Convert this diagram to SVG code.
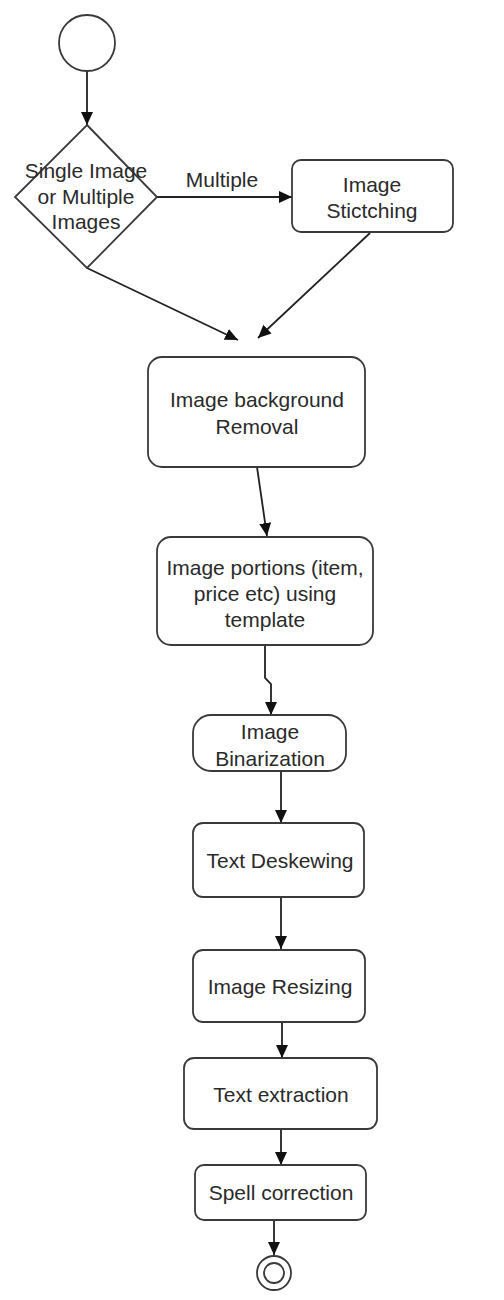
<svg xmlns="http://www.w3.org/2000/svg" width="504" height="1300" viewBox="0 0 504 1300">
<defs>
<marker id="arr" markerUnits="userSpaceOnUse" markerWidth="14" markerHeight="12" refX="13" refY="6" orient="auto">
<path d="M0,0 L13,6 L0,12 Z" fill="#111"/>
</marker>
<style>
.n{fill:#fff;stroke:#3a3a3a;stroke-width:1.8}
.t{font-family:"Liberation Sans",Arial,sans-serif;font-size:21px;fill:#2a2a2a;text-anchor:middle}
.c{fill:none;stroke:#222;stroke-width:1.8;marker-end:url(#arr)}
</style>
</defs>
<rect width="504" height="1300" fill="#fff"/>
<g id="connectors">
<path class="c" d="M87,71 V125"/>
<path class="c" d="M157,197 H292"/>
<path class="c" d="M87,268 L238,340"/>
<path class="c" d="M370,233 L258,338"/>
<path class="c" d="M257,467 L267,536"/>
<path class="c" d="M265,645 V678 L271,684 V715"/>
<path class="c" d="M281,771 V823"/>
<path class="c" d="M281,897 V949"/>
<path class="c" d="M282,1022 V1058"/>
<path class="c" d="M281,1129 V1165"/>
<path class="c" d="M274,1220 V1255"/>
<text class="t" x="222" y="187">Multiple</text>
</g>
<g id="start"><circle class="n" cx="87" cy="43" r="28"/></g>
<g id="decision">
<polygon class="n" points="87,125 157,197 87,268 15,197"/>
<text class="t" x="86" y="178">Single Image</text>
<text class="t" x="86" y="204">or Multiple</text>
<text class="t" x="86" y="229">Images</text>
</g>
<g id="stitching">
<rect class="n" x="292" y="160" width="161" height="72" rx="9"/>
<text class="t" x="372" y="192">Image</text>
<text class="t" x="372" y="218">Stictching</text>
</g>
<g id="bgremoval">
<rect class="n" x="148" y="357" width="217" height="110" rx="14"/>
<text class="t" x="257" y="407">Image background</text>
<text class="t" x="257" y="434">Removal</text>
</g>
<g id="portions">
<rect class="n" x="157" y="537" width="216" height="108" rx="14"/>
<text class="t" x="265" y="575">Image portions (item,</text>
<text class="t" x="265" y="601">price etc) using</text>
<text class="t" x="265" y="627">template</text>
</g>
<g id="binarization">
<rect class="n" x="193" y="715" width="153" height="56" rx="18"/>
<text class="t" x="270" y="739">Image</text>
<text class="t" x="270" y="766">Binarization</text>
</g>
<g id="deskewing">
<rect class="n" x="193" y="823" width="171" height="74" rx="10"/>
<text class="t" x="280" y="868">Text Deskewing</text>
</g>
<g id="resizing">
<rect class="n" x="193" y="950" width="172" height="72" rx="10"/>
<text class="t" x="280" y="994">Image Resizing</text>
</g>
<g id="extraction">
<rect class="n" x="184" y="1058" width="193" height="71" rx="10"/>
<text class="t" x="281" y="1102">Text extraction</text>
</g>
<g id="spell">
<rect class="n" x="195" y="1165" width="171" height="55" rx="9"/>
<text class="t" x="281" y="1200">Spell correction</text>
</g>
<g id="end">
<circle class="n" cx="274" cy="1273" r="17"/>
<circle class="n" cx="274" cy="1273" r="10"/>
</g>
</svg>
